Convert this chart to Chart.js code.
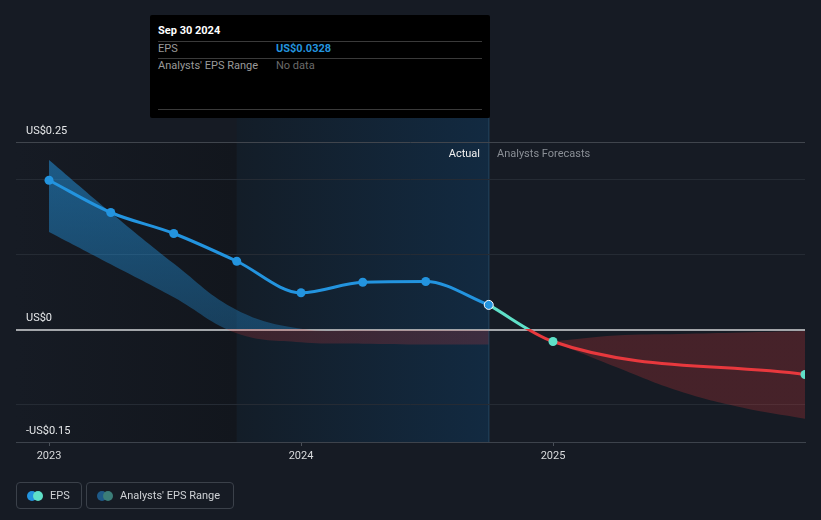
<!DOCTYPE html>
<html><head><meta charset="utf-8">
<script src="https://cdn.jsdelivr.net/npm/chart.js@4"></script>
<style>
html,body{margin:0;padding:0;background:#161b24;}
#wrap{position:relative;width:821px;height:520px;font-family:Roboto,"Open Sans",sans-serif;font-size:11px;}
#c{position:absolute;left:0;top:0;}
.abs{position:absolute;white-space:nowrap;line-height:14px;}
#tip{position:absolute;left:150px;top:15px;width:340px;height:103px;background:#000;border-radius:2px;}
.hl{position:absolute;left:8px;width:324px;height:1px;background:#3a3a3a;}
.box{position:absolute;top:482px;height:27px;border:1px solid #3b414a;border-radius:4px;box-sizing:border-box;}
.dot{position:absolute;top:8px;width:10px;height:10px;border-radius:50%;}
</style></head>
<body>
<div id="wrap">
<canvas id="c" width="821" height="520"></canvas>
<div id="tip">
  <div class="abs" style="left:8px;top:9px;color:#fff;font-weight:bold;">Sep 30 2024</div>
  <div class="hl" style="top:26px"></div>
  <div class="abs" style="left:8px;top:27px;color:#9a9a9a;">EPS</div>
  <div class="abs" style="left:126px;top:27px;color:#2394df;font-weight:bold;">US$0.0328</div>
  <div class="hl" style="top:43px"></div>
  <div class="abs" style="left:8px;top:44px;color:#9a9a9a;">Analysts' EPS Range</div>
  <div class="abs" style="left:126px;top:44px;color:#6a6a6a;">No data</div>
  <div class="hl" style="top:94px"></div>
</div>
<div class="abs" style="right:341px;top:147px;color:#f0f0f0;">Actual</div>
<div class="abs" style="left:497px;top:147px;color:#8a8f96;">Analysts Forecasts</div>
<div class="box" style="left:16px;width:66px;">
  <div class="dot" style="left:10px;background:#2394df;"></div>
  <div class="dot" style="left:16px;background:#5fe0c8;"></div>
  <div class="abs" style="left:33px;top:6px;color:#cfd2d6;">EPS</div>
</div>
<div class="box" style="left:86px;width:148px;">
  <div class="dot" style="left:10px;background:#1e5a88;"></div>
  <div class="dot" style="left:16px;background:#3b7d78;"></div>
  <div class="abs" style="left:33px;top:6px;color:#cfd2d6;">Analysts' EPS Range</div>
</div>
</div>
<script>
// ---- data (x values in decimal years) ----
const epsDates = [2023.0, 2023.245, 2023.495, 2023.745, 2024.0, 2024.245, 2024.495, 2024.745];
const epsValues = [0.199, 0.156, 0.128, 0.091, 0.049, 0.063, 0.064, 0.0328];
const forecastDates = [2024.745, 2025.0, 2026.0];
const forecastValues = [0.0328, -0.016, -0.060];
const rangeHistDates = [2023.0, 2023.245, 2023.495, 2023.745, 2024.0, 2024.245, 2024.495, 2024.745];
const rangeHistHigh = [0.226, 0.156, 0.088, 0.026, 0.001, -0.001, -0.001, -0.001];
const rangeHistLow = [0.130, 0.087, 0.043, -0.005, -0.017, -0.019, -0.020, -0.020];
const rangeFcDates = [2025.0, 2025.25, 2025.5, 2025.75, 2026.0];
const rangeFcHigh = [-0.016, -0.008, -0.006, -0.004, -0.002];
const rangeFcLow = [-0.016, -0.050, -0.082, -0.104, -0.119];
const xTickValues = [2023, 2024, 2025];
const yTickValues = [-0.15, -0.1, 0, 0.1, 0.2, 0.25];
const yLabelValues = [0.25, 0, -0.15];
const pastYearStart = 2023.745;
const lastActual = 2024.745;

const pts = (xs, ys) => xs.map((x, i) => ({x, y: ys[i]}));

function signGradient(ctx, above, below) {
  const chart = ctx.chart;
  const area = chart.chartArea;
  if (!area) return above;
  const y0 = chart.scales.y.getPixelForValue(0);
  const g = chart.ctx.createLinearGradient(0, area.top, 0, area.bottom);
  const s = Math.min(1, Math.max(0, (y0 - area.top) / (area.bottom - area.top)));
  if (Array.isArray(above)) {
    g.addColorStop(0, above[0]); g.addColorStop(s, above[1]);
  } else { g.addColorStop(0, above); g.addColorStop(s, above); }
  g.addColorStop(s, below); g.addColorStop(1, below);
  return g;
}

const bgPlugin = {
  id: 'bg',
  beforeDraw(chart) {
    const {ctx, chartArea: a, scales: {x}} = chart;
    ctx.save();
    ctx.fillStyle = '#161b24';
    ctx.fillRect(0, 0, chart.width, chart.height);
    const xs = x.getPixelForValue(pastYearStart);
    const xe = x.getPixelForValue(lastActual);
    let g = ctx.createLinearGradient(a.left, 0, xs, 0);
    g.addColorStop(0, '#161b24'); g.addColorStop(1, '#12161d');
    ctx.fillStyle = g;
    ctx.fillRect(a.left, a.top, xs - a.left, a.bottom - a.top);
    g = ctx.createLinearGradient(xs, 0, xe, 0);
    g.addColorStop(0, '#131d28'); g.addColorStop(1, '#122a41');
    ctx.fillStyle = g;
    ctx.fillRect(xs, 118, xe - xs, a.bottom - 118);
    ctx.fillStyle = '#1d3a52';
    ctx.fillRect(Math.round(xe) - 1, 118, 1.5, a.bottom - 118);
    ctx.restore();
  }
};

const blueBand = ['rgba(35,148,223,0.55)', 'rgba(35,148,223,0.32)'];
const redBand = 'rgba(229,57,59,0.23)';

new Chart(document.getElementById('c'), {
  type: 'line',
  data: {
    datasets: [
      {
        data: pts(epsDates, epsValues),
        borderColor: '#2394df', borderWidth: 3,
        cubicInterpolationMode: 'monotone',
        pointRadius: 4.5,
        pointBackgroundColor: '#2394df',
        pointBorderColor: epsDates.map((d, i) => i === epsDates.length - 1 ? '#ffffff' : '#2394df'),
        pointBorderWidth: epsDates.map((d, i) => i === epsDates.length - 1 ? 1 : 0),
        fill: false
      },
      {
        data: pts(forecastDates, forecastValues),
        borderColor: (c) => signGradient(c, '#5fe0c8', '#e8383d'),
        borderWidth: 3,
        cubicInterpolationMode: 'monotone',
        pointRadius: forecastDates.map((d, i) => i === 0 ? 0 : 4.5),
        pointBackgroundColor: '#5fe0c8', pointBorderWidth: 0,
        fill: false
      },
      {
        data: pts(rangeHistDates, rangeHistHigh),
        borderWidth: 0, pointRadius: 0, tension: 0.4,
        backgroundColor: (c) => signGradient(c, blueBand, 'rgba(229,57,59,0.20)'),
        fill: '+1'
      },
      {
        data: pts(rangeHistDates, rangeHistLow),
        borderWidth: 0, pointRadius: 0, tension: 0.4, fill: false
      },
      {
        data: pts(rangeFcDates, rangeFcHigh),
        borderWidth: 0, pointRadius: 0, tension: 0.4,
        backgroundColor: (c) => signGradient(c, blueBand, redBand),
        fill: '+1'
      },
      {
        data: pts(rangeFcDates, rangeFcLow),
        borderWidth: 0, pointRadius: 0, tension: 0.4, fill: false
      }
    ]
  },
  options: {
    responsive: false, animation: false,
    events: [],
    layout: {padding: {left: 16, right: 16, top: 142, bottom: 48}},
    plugins: {legend: {display: false}, tooltip: {enabled: false}},
    scales: {
      x: {
        type: 'linear', min: 2022.869, max: 2026.0,
        afterFit(s) { s.height = 30; },
        afterBuildTicks(s) { s.ticks = xTickValues.map(v => ({value: v})); },
        grid: {drawOnChartArea: false, drawTicks: true, tickLength: 4, color: '#4a5059'},
        border: {display: true, color: '#3d434c'},
        ticks: {color: '#d8dadc', padding: 4, maxRotation: 0, autoSkip: false,
          font: {family: 'Roboto', size: 11}, callback: (v) => String(v)}
      },
      y: {
        min: -0.15, max: 0.25,
        afterFit(s) { s.width = 0; },
        afterBuildTicks(s) { s.ticks = yTickValues.map(v => ({value: v})); },
        border: {display: false},
        grid: {
          drawTicks: false,
          color: (c) => {
            const v = c.tick && c.tick.value;
            if (v === 0) return '#a3a6aa';
            if (v === 0.25) return '#40454d';
            if (v === -0.15) return '#3d434c';
            return '#252b34';
          },
          lineWidth: (c) => (c.tick && c.tick.value === 0) ? 2 : 1
        },
        ticks: {
          mirror: true, padding: 10, labelOffset: -11,
          color: '#e6e8ea', font: {family: 'Roboto', size: 11},
          callback: (v) => {
            if (!yLabelValues.includes(v)) return '';
            if (v === 0) return 'US$0';
            return (v < 0 ? '-US$' : 'US$') + Math.abs(v);
          }
        }
      }
    }
  },
  plugins: [bgPlugin]
});
</script>
</body></html>
